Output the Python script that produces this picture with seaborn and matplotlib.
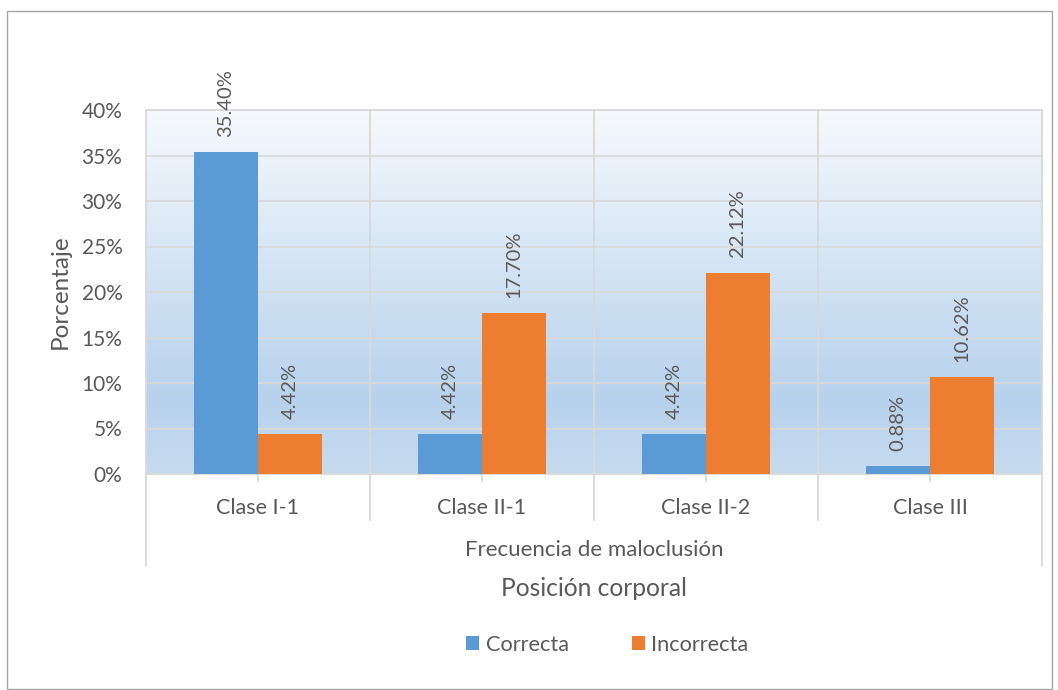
import numpy as np
import pandas as pd
import matplotlib
matplotlib.use("Agg")
import matplotlib.pyplot as plt
import matplotlib.transforms as mtransforms
from matplotlib.patches import Rectangle
from matplotlib.colors import LinearSegmentedColormap
import seaborn as sns

categories = ["Clase I-1", "Clase II-1", "Clase II-2", "Clase III"]
series = ["Correcta", "Incorrecta"]
correcta = [35.40, 4.42, 4.42, 0.88]
incorrecta = [4.42, 17.70, 22.12, 10.62]

df = pd.DataFrame({
    "clase": categories * 2,
    "posicion": [series[0]] * 4 + [series[1]] * 4,
    "pct": correcta + incorrecta,
})

sns.set_theme(style="white")
plt.rcParams["font.family"] = ["Lato", "DejaVu Sans"]
txt = "#595959"
grid = "#D9D9D9"

fig = plt.figure(figsize=(10.58, 6.9), dpi=100)
fig.patch.set_facecolor("white")
fig.patches.append(Rectangle((7 / 1058, 1 - 689 / 690), 1045 / 1058, 678 / 690,
                             transform=fig.transFigure, fill=False,
                             edgecolor="#A6A6A6", linewidth=1))

ax = fig.add_axes([146 / 1058, 1 - 474 / 690, 896 / 1058, 364 / 690])

# gradient background
cmap = LinearSegmentedColormap.from_list(
    "bg", [(0, "#F6F9FD"), (0.8, "#B7D2EC"), (1, "#C7DBEF")])
grad = np.linspace(0, 1, 256).reshape(-1, 1)
ax.imshow(grad, cmap=cmap, extent=[0, 1, 0, 1], transform=ax.transAxes,
          aspect="auto", zorder=0)

sns.barplot(data=df, x="clase", y="pct", hue="posicion", order=categories,
            hue_order=series, palette=["#5B9BD5", "#ED7D31"], width=0.57,
            saturation=1, ax=ax, zorder=3, legend=True, linewidth=0)

for cont in ax.containers:
    ax.bar_label(cont, labels=[f"{v:.2f}%" for v in cont.datavalues],
                 rotation=90, padding=11, fontsize=14.5, color=txt)

ax.set_ylim(0, 40)
ax.set_xlim(-0.5, 3.5)
ax.set_yticks(range(0, 41, 5))
ax.set_yticklabels([f"{v}%" for v in range(0, 41, 5)], fontsize=15, color=txt)
ax.set_xticks(range(4))
ax.set_xticklabels(categories, fontsize=15.5, color=txt)
ax.tick_params(axis="x", length=6, color=grid, pad=11, bottom=True)
ax.tick_params(axis="y", length=0, pad=17)
for y in range(5, 41, 5):
    ax.axhline(y, color=grid, lw=1.3, zorder=1)
for x in [0.5, 1.5, 2.5]:
    ax.axvline(x, color=grid, lw=1.3, zorder=1)
for s in ax.spines.values():
    s.set_color(grid)
    s.set_linewidth(1.3)

ax.set_xlabel("")
ax.set_ylabel("Porcentaje", fontsize=17.5, color=txt, labelpad=8)

# multi-level axis lines below the plot
tr = mtransforms.blended_transform_factory(ax.transData, ax.transAxes)
for x in [0.5, 1.5, 2.5]:
    ax.plot([x, x], [0, -46 / 364], color=grid, lw=1.3, transform=tr, clip_on=False)
for x in [-0.5, 3.5]:
    ax.plot([x, x], [0, -92 / 364], color=grid, lw=1.3, transform=tr, clip_on=False)

fig.text(0.5 * (146 + 1042) / 1058, 1 - 550 / 690, "Frecuencia de maloclusión",
         ha="center", va="center", fontsize=16, color=txt)
fig.text(0.5 * (146 + 1042) / 1058, 1 - 588 / 690, "Posición corporal",
         ha="center", va="center", fontsize=17.7, color=txt)

handles, labels = ax.get_legend_handles_labels()
ax.get_legend().remove()
fig.legend(handles, labels, loc="center", bbox_to_anchor=(0.574, 1 - 645 / 690),
           ncol=2, frameon=False, fontsize=15.7, labelcolor=txt,
           handlelength=0.6, handleheight=0.6, handletextpad=0.3,
           columnspacing=2.9)

fig.savefig("out.png", dpi=100)
